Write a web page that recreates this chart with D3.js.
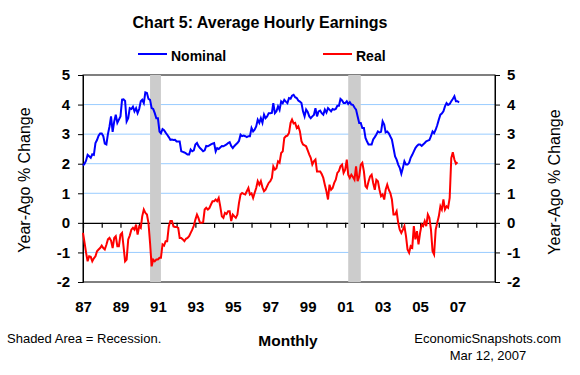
<!DOCTYPE html>
<html>
<head>
<meta charset="utf-8">
<script src="https://cdn.jsdelivr.net/npm/d3@7"></script>
<style>
  body { margin: 0; background: #fff; }
  text { font-family: "Liberation Sans", Arial, sans-serif; fill: #000; }
</style>
</head>
<body>
<div id="chart"></div>
<script>
// Monthly year-ago % change, first month = Jan 1987
var startYear = 1987;

// Nominal average hourly earnings (Jan 1987 - Feb 2007)
var nominal = [
  1.94, 2.00, 2.10, 2.30, 2.25, 2.20, 2.32, 2.30, 2.70, 2.80, 2.95, 3.02,
  3.02, 2.93, 2.68, 2.65, 3.00, 3.26, 3.60, 3.08, 3.43, 3.66, 3.38, 3.49,
  3.60, 4.17, 4.18, 4.12, 3.43, 3.54, 3.88, 3.85, 3.93, 3.77, 3.88, 3.71,
  3.85, 4.11, 4.16, 4.05, 4.41, 4.39, 4.19, 4.16, 3.88, 3.85, 3.71, 3.54,
  3.54, 3.09, 3.03, 3.17, 3.13, 3.05, 2.98, 2.90, 2.81, 2.82, 2.80, 2.81,
  2.75, 2.75, 2.75, 2.42, 2.40, 2.38, 2.35, 2.31, 2.31, 2.48, 2.42, 2.45,
  2.65, 2.70, 2.60, 2.53, 2.48, 2.42, 2.45, 2.60, 2.59, 2.62, 2.65, 2.68,
  2.70, 2.42, 2.53, 2.50, 2.55, 2.60, 2.59, 2.62, 2.65, 2.70, 2.73, 2.60,
  2.53, 2.60, 2.65, 2.70, 2.77, 2.98, 2.93, 2.95, 2.93, 2.90, 2.93, 2.93,
  3.21, 3.09, 3.15, 3.26, 3.49, 3.38, 3.54, 3.38, 3.66, 3.54, 3.60, 3.71,
  3.71, 3.72, 4.05, 3.71, 3.77, 3.94, 3.82, 4.11, 4.05, 4.16, 4.10, 4.05,
  4.22, 4.20, 4.30, 4.33, 4.25, 4.22, 4.14, 4.10, 4.05, 3.77, 3.60, 3.83,
  3.75, 3.60, 3.54, 3.60, 3.65, 3.88, 3.60, 3.77, 3.80, 3.71, 3.66, 3.83,
  3.73, 3.88, 3.83, 3.77, 3.85, 3.83, 3.85, 3.96, 3.96, 4.19, 4.14, 4.05,
  4.05, 4.11, 4.02, 4.08, 4.00, 3.99, 3.90, 3.83, 3.60, 3.38, 3.38, 3.21,
  3.21, 2.87, 2.76, 2.65, 2.65, 2.65, 2.82, 2.90, 2.99, 3.09, 3.06, 3.08,
  3.43, 3.32, 3.06, 3.09, 3.03, 2.92, 2.82, 2.53, 2.25, 2.14, 1.97, 1.86,
  1.66, 1.86, 2.08, 1.97, 1.97, 2.03, 2.20, 2.30, 2.42, 2.53, 2.60, 2.65,
  2.65, 2.60, 2.65, 2.70, 2.76, 2.78, 2.80, 2.93, 3.09, 3.03, 3.15, 3.30,
  3.49, 3.66, 3.70, 3.77, 3.94, 4.05, 3.99, 4.02, 4.11, 4.19, 4.28, 4.11,
  4.11, 4.07
];

// Real average hourly earnings (Jan 1987 - Jan 2007)
var real = [
  -0.34, -0.68, -1.00, -1.30, -1.13, -1.15, -1.30, -1.20, -1.13, -0.96, -0.90, -0.85,
  -0.77, -0.85, -0.90, -0.74, -0.56, -0.51, -0.60, -0.85, -0.51, -0.45, -0.79, -0.79,
  -0.40, -0.34, -0.79, -1.30, -1.24, -0.56, -0.43, -0.23, -0.17, -0.23, -0.06, -0.40,
  -0.12, -0.17, 0.22, 0.45, 0.34, 0.28, 0.00, -0.68, -1.47, -1.24, -1.30, -1.24,
  -1.24, -1.18, -1.18, -0.73, -0.77, -0.62, -0.62, -0.12, 0.06, 0.06, -0.12, -0.14,
  -0.14, -0.17, -0.51, -0.51, -0.56, -0.62, -0.54, -0.51, -0.45, -0.34, -0.23, -0.10,
  0.11, 0.28, 0.17, 0.00, 0.00, 0.02, 0.45, 0.51, 0.45, 0.50, 0.62, 0.73,
  0.73, 0.79, 0.73, 0.84, 0.56, 0.22, 0.17, 0.34, 0.30, 0.39, 0.39, 0.06,
  0.28, 0.22, 0.17, 0.28, 0.67, 0.96, 1.01, 0.98, 0.96, 1.07, 1.18, 0.96,
  1.00, 0.84, 1.01, 1.18, 1.41, 1.29, 1.41, 1.20, 1.07, 1.12, 1.24, 1.35,
  1.41, 1.52, 1.91, 1.80, 1.85, 2.08, 2.03, 2.36, 2.42, 2.87, 2.93, 2.95,
  3.04, 3.38, 3.49, 3.36, 3.38, 3.21, 3.27, 3.10, 2.76, 2.65, 2.62, 2.59,
  2.45, 2.31, 2.20, 1.97, 2.08, 2.14, 1.74, 1.74, 1.74, 1.65, 1.52, 1.29,
  1.07, 0.79, 1.29, 1.12, 1.18, 1.35, 1.46, 1.69, 1.75, 1.91, 1.97, 1.69,
  1.80, 2.14, 1.63, 1.52, 1.63, 1.55, 1.46, 1.91, 1.41, 1.57, 1.97, 2.03,
  1.74, 1.24, 1.18, 1.40, 1.57, 1.63, 1.35, 1.12, 1.46, 1.41, 1.12, 0.90,
  0.96, 0.79, 1.12, 1.29, 1.12, 1.01, 0.79, 0.28, 0.28, 0.39, 0.00, -0.23,
  -0.34, -0.23, -0.11, -0.45, -0.90, -1.01, -0.79, -0.84, -0.11, -0.56, -0.28, -0.73,
  -0.34, -0.06, -0.11, 0.06, -0.11, 0.28, 0.17, -0.23, -0.96, -1.07, -0.23, 0.00,
  0.22, 0.56, 0.45, 0.79, 0.45, 0.56, 0.51, 0.84, 2.19, 2.39, 2.14, 2.00,
  2.05
];

// Recession periods (shaded)
var recessions = [["1990-08", "1991-03"], ["2001-03", "2001-11"]];

// Axis labels
var xTickYears = [1987, 1989, 1991, 1993, 1995, 1997, 1999, 2001, 2003, 2005, 2007];
var xTickLabels = ["87", "89", "91", "93", "95", "97", "99", "01", "03", "05", "07"];
var yTicks = [-2, -1, 0, 1, 2, 3, 4, 5];
var gridValues = [-1, 1, 2, 3, 4];

var margin = {top: 75, right: 85, bottom: 93, left: 83},
    width = 580 - margin.left - margin.right,
    height = 375 - margin.top - margin.bottom;

var root = d3.select("#chart")
  .append("svg")
    .attr("width", 580)
    .attr("height", 375);

var svg = root.append("g")
    .attr("transform", "translate(" + margin.left + "," + margin.top + ")");

var x = d3.scaleTime()
  .domain([new Date(1987, 0, 1), new Date(2009, 0, 1)])
  .range([0, width]);

var y = d3.scaleLinear()
  .domain([-2, 5])
  .range([height, 0]);

var parseMonth = d3.timeParse("%Y-%m");
function monthDate(i) { return new Date(startYear, i, 1); }

// gridlines
svg.selectAll(".grid")
  .data(gridValues)
  .enter().append("line")
    .attr("x1", 0).attr("x2", width)
    .attr("y1", function(d) { return y(d); })
    .attr("y2", function(d) { return y(d); })
    .attr("stroke", "#99ccff")
    .attr("stroke-width", 1);

// frame
svg.append("rect")
  .attr("width", width)
  .attr("height", height)
  .attr("fill", "none")
  .attr("stroke", "#000")
  .attr("stroke-width", 1);

// zero line with yearly ticks
var zeroAxis = svg.append("g")
  .attr("transform", "translate(0," + y(0) + ")")
  .call(d3.axisBottom(x).ticks(d3.timeYear.every(1)).tickSize(5).tickSizeOuter(0).tickFormat(""));
zeroAxis.selectAll("path, line").attr("stroke", "#000").attr("stroke-width", 1.2);

// recession shading
svg.selectAll(".recession")
  .data(recessions)
  .enter().append("rect")
    .attr("x", function(d) { return x(parseMonth(d[0])); })
    .attr("width", function(d) { return x(parseMonth(d[1])) - x(parseMonth(d[0])); })
    .attr("y", 0)
    .attr("height", height)
    .attr("fill", "#cccccc");

// left and right axes (plain hyphen for negatives)
var tickText = function(d) { return String(d); };
var left = svg.append("g")
  .call(d3.axisLeft(y).tickValues(yTicks).tickSize(5).tickPadding(8).tickFormat(tickText));
var right = svg.append("g")
  .attr("transform", "translate(" + width + ",0)")
  .call(d3.axisRight(y).tickValues(yTicks).tickSize(5).tickPadding(7).tickFormat(tickText));
[left, right].forEach(function(a) {
  a.select(".domain").attr("stroke", "#000");
  a.selectAll("line").attr("stroke", "#000");
  a.selectAll("text")
    .attr("font-family", "'Liberation Sans', Arial, sans-serif")
    .attr("font-size", 15)
    .attr("font-weight", "bold")
    .attr("fill", "#000");
});

// x labels
var xAxis = svg.append("g")
  .attr("transform", "translate(0," + height + ")")
  .call(d3.axisBottom(x)
    .tickValues(xTickYears.map(function(yr) { return new Date(yr, 0, 1); }))
    .tickSize(0).tickPadding(19)
    .tickFormat(function(d, i) { return xTickLabels[i]; }));
xAxis.select(".domain").remove();
xAxis.selectAll("text")
  .attr("font-family", "'Liberation Sans', Arial, sans-serif")
  .attr("font-size", 15)
  .attr("font-weight", "bold")
  .attr("fill", "#000");

// data lines
var line = d3.line()
  .x(function(d, i) { return x(monthDate(i)); })
  .y(function(d) { return y(d); });

svg.append("path")
  .datum(nominal)
  .attr("fill", "none")
  .attr("stroke", "#0000ff")
  .attr("stroke-width", 2)
  .attr("d", line);

svg.append("path")
  .datum(real)
  .attr("fill", "none")
  .attr("stroke", "#ff0000")
  .attr("stroke-width", 2)
  .attr("d", line);

// title
root.append("text")
  .attr("x", 260).attr("y", 28)
  .attr("text-anchor", "middle")
  .attr("font-size", 16)
  .attr("font-weight", "bold")
  .text("Chart 5: Average Hourly Earnings");

// legend
var legendItems = [
  {name: "Nominal", color: "#0000ff", x: 138},
  {name: "Real", color: "#ff0000", x: 323}
];
var legend = root.selectAll(".legend")
  .data(legendItems)
  .enter().append("g")
    .attr("transform", function(d) { return "translate(" + d.x + ",54)"; });
legend.append("line")
  .attr("x1", 0).attr("x2", 29)
  .attr("stroke", function(d) { return d.color; })
  .attr("stroke-width", 2);
legend.append("text")
  .attr("x", 33).attr("y", 7)
  .attr("font-size", 14)
  .attr("font-weight", "bold")
  .text(function(d) { return d.name; });

// axis titles
root.append("text")
  .attr("transform", "translate(30,180) rotate(-90)")
  .attr("text-anchor", "middle")
  .attr("font-size", 16)
  .text("Year-Ago % Change");
root.append("text")
  .attr("transform", "translate(560,182) rotate(-90)")
  .attr("text-anchor", "middle")
  .attr("font-size", 16)
  .text("Year-Ago % Change");

// footer
root.append("text")
  .attr("x", 7).attr("y", 343)
  .attr("font-size", 13)
  .text("Shaded Area = Recession.");
root.append("text")
  .attr("x", 288).attr("y", 346)
  .attr("text-anchor", "middle")
  .attr("font-size", 15.5)
  .attr("font-weight", "bold")
  .text("Monthly");
root.append("text")
  .attr("x", 561).attr("y", 343)
  .attr("text-anchor", "end")
  .attr("font-size", 13)
  .text("EconomicSnapshots.com");
root.append("text")
  .attr("x", 488).attr("y", 360)
  .attr("text-anchor", "middle")
  .attr("font-size", 13)
  .text("Mar 12, 2007");
</script>
</body>
</html>
